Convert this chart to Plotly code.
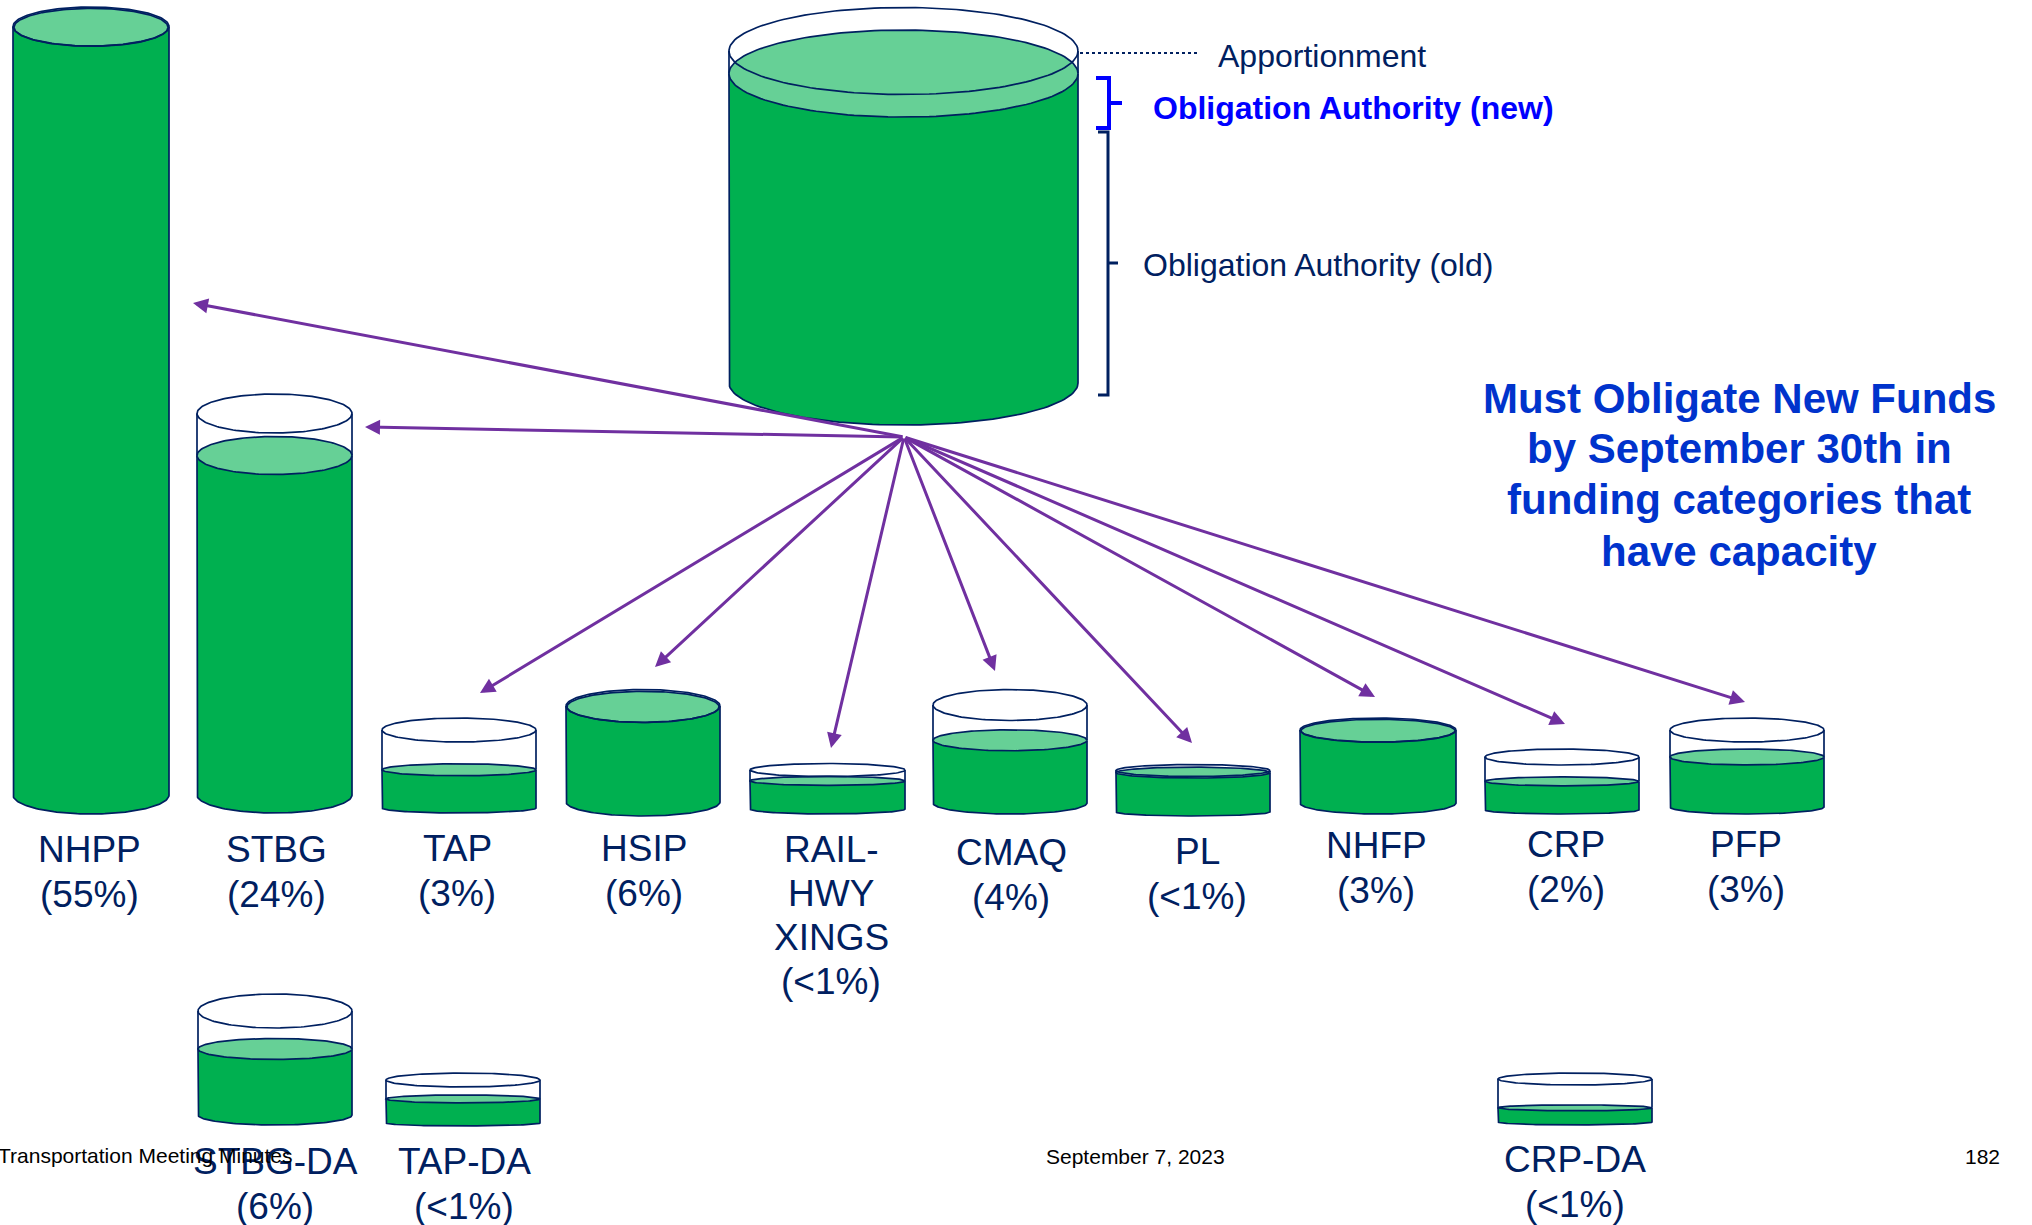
import numpy as np
import plotly.graph_objects as go

W, H = 2032, 1225

# ---------------- data ----------------
label_lines = [["NHPP"], ["STBG"], ["TAP"], ["HSIP"], ["RAIL-", "HWY", "XINGS"], ["CMAQ"],
               ["PL"], ["NHFP"], ["CRP"], ["PFP"], ["STBG-DA"], ["TAP-DA"], ["CRP-DA"]]
shares = ["55%", "24%", "3%", "6%", "<1%", "4%", "<1%", "3%", "2%", "3%", "6%", "<1%", "<1%"]
# share of each container's capacity that is filled (obligation authority)
fill_levels = [1.0, 0.89, 0.49, 1.0, 0.72, 0.64, 0.95, 1.0, 0.54, 0.65, 0.635, 0.56, 0.33]
apportionment_fill = 0.932

annot_apportionment = "Apportionment"
annot_new = "Obligation Authority (new)"
annot_old = "Obligation Authority (old)"
message_lines = ["Must Obligate New Funds", "by September 30th in",
                 "funding categories that", "have capacity"]
footer_left = "Transportation Meeting Minutes"
footer_mid = "September 7, 2023"
footer_right = "182"

# ---------------- layout geometry (pixel space) ----------------
cyl_cx = [91, 274.5, 459, 643, 827.5, 1010, 1193, 1378, 1562, 1747, 275, 463, 1575]
cyl_w = [156, 155, 154, 154, 155, 154, 154, 156, 154, 154, 154, 154, 154]
cyl_top = [26.5, 413.5, 730, 706, 770, 705, 770.5, 730, 757, 730, 1011, 1080, 1079]
cyl_bot = [795, 795, 808, 802, 809, 803, 812, 803, 810, 807, 1115, 1123, 1122]
top_ry = [19.5, 19.5, 12, 16.5, 6.5, 15.5, 6, 12, 8, 12, 17, 7, 6]
fill_ry = [19, 19, 6, 15.5, 4.5, 10.5, 5.5, 11.5, 4.5, 8, 10.5, 4, 3]
bot_ry = [19, 18, 5, 14, 5, 11, 4, 11, 4, 7, 10, 3, 3]

label_x = [89, 276, 457, 644, 831, 1011, 1197, 1376, 1566, 1746, 275, 464, 1575]
label_y0 = [849, 849, 848, 848, 849.5, 852, 851, 845, 844, 844, 1161, 1161, 1159]

main_geom = dict(cx=903.5, w=349, top=51, top_ry=43.5, fill_ry=43.5, bot=383, bot_ry=42)

arrow_origin = (904, 437)
arrow_tips = [(193, 303), (365, 427), (480, 693), (655, 667), (831, 748), (995, 671),
              (1192, 743), (1375, 697), (1565, 724), (1745, 702)]

# ---------------- styles ----------------
GREEN = "#00B050"
LIGHT = "#66D096"
NAVY = "#002060"
PURPLE = "#7030A0"
BLUE = "#0000FF"
MSG_BLUE = "#0033CC"
FONT = "Liberation Sans, Arial, sans-serif"
LW = 1.7

fig = go.Figure()


def add_poly(xs, ys, fill=None, color=NAVY, width=LW, dash=None):
    fig.add_trace(go.Scatter(
        x=xs, y=ys, mode="lines",
        fill="toself" if fill else None,
        fillcolor=fill if fill else None,
        line=dict(color=color, width=width, dash=dash),
        hoverinfo="skip", showlegend=False))


def ellipse(cx, cy, a, b, n=160):
    t = np.linspace(0, 2 * np.pi, n)
    return list(cx + a * np.cos(t)), list(cy + b * np.sin(t))


def cylinder(cx, w, top, tr, frac, fr, bot, br):
    a = w / 2.0
    fill_cy = bot - frac * (bot - top)
    # green body with rounded bottom
    t = np.linspace(np.pi, 0, 80)
    xs = [cx - a, cx - a] + list(cx + a * np.cos(t)) + [cx + a, cx + a]
    ys = [fill_cy, bot] + list(bot + br * np.sin(t)) + [bot, fill_cy]
    add_poly(xs, ys, fill=GREEN)
    # empty walls above the fill level
    if fill_cy - top > 0.5:
        add_poly([cx - a, cx - a, None, cx + a, cx + a],
                 [top, fill_cy, None, top, fill_cy])
    # fill surface
    ex, ey = ellipse(cx, fill_cy + (0.8 if frac >= 0.999 else 0), a - (1.0 if frac >= 0.999 else 0), fr)
    add_poly(ex, ey, fill=LIGHT)
    # container rim
    ex, ey = ellipse(cx, top, a, tr)
    add_poly(ex, ey)


for i in range(len(label_lines)):
    cylinder(cyl_cx[i], cyl_w[i], cyl_top[i], top_ry[i], fill_levels[i],
             fill_ry[i], cyl_bot[i], bot_ry[i])

m = main_geom
cylinder(m["cx"], m["w"], m["top"], m["top_ry"], apportionment_fill, m["fill_ry"],
         m["bot"], m["bot_ry"])

# leader line and braces
add_poly([1080, 1198], [53, 53], color=NAVY, width=2, dash="dot")
add_poly([1096, 1109, 1109, 1122, 1109, 1109, 1096], [78, 78, 103, 103, 103, 128, 128],
         color=BLUE, width=4)
add_poly([1098, 1108, 1108, 1118, 1108, 1108, 1098], [132, 132, 263, 263, 263, 395, 395],
         color=NAVY, width=3)

annotations = []

# arrows
for (tx, ty) in arrow_tips:
    annotations.append(dict(
        x=tx, y=ty, ax=arrow_origin[0], ay=arrow_origin[1], xref="x", yref="y",
        axref="x", ayref="y", text="", showarrow=True, arrowhead=2, arrowsize=1,
        arrowwidth=3, arrowcolor=PURPLE, standoff=0, startstandoff=0))

# category labels
for i, lines in enumerate(label_lines):
    all_lines = lines + ["(" + shares[i] + ")"]
    step = 44 if len(all_lines) > 2 else 45
    for j, ln in enumerate(all_lines):
        annotations.append(dict(
            x=label_x[i], y=label_y0[i] + j * step, xref="x", yref="y",
            text=ln.replace("<", "&lt;"), showarrow=False, xanchor="center", yanchor="middle",
            font=dict(family=FONT, size=37, color=NAVY)))

# callouts
annotations.append(dict(x=1216, y=56, xref="x", yref="y", text=annot_apportionment,
                        showarrow=False, xanchor="left", yanchor="middle",
                        font=dict(family=FONT, size=32, color=NAVY)))
annotations.append(dict(x=1151, y=107.5, xref="x", yref="y", text="<b>" + annot_new + "</b>",
                        showarrow=False, xanchor="left", yanchor="middle",
                        font=dict(family=FONT, size=32, color=BLUE)))
annotations.append(dict(x=1141, y=265, xref="x", yref="y", text=annot_old,
                        showarrow=False, xanchor="left", yanchor="middle",
                        font=dict(family=FONT, size=32, color=NAVY)))

msg_y = [398, 448.5, 499.5, 551]
for ln, yy in zip(message_lines, msg_y):
    annotations.append(dict(x=1739, y=yy, xref="x", yref="y", text="<b>" + ln + "</b>",
                            showarrow=False, xanchor="center", yanchor="middle",
                            font=dict(family=FONT, size=42, color=MSG_BLUE)))

# footer
annotations.append(dict(x=-0.002, y=1155, xref="paper", yref="y", text=footer_left,
                        showarrow=False, xanchor="left", yanchor="middle",
                        font=dict(family=FONT, size=21, color="#000000")))
annotations.append(dict(x=1135, y=1156, xref="x", yref="y", text=footer_mid,
                        showarrow=False, xanchor="center", yanchor="middle",
                        font=dict(family=FONT, size=21, color="#000000")))
annotations.append(dict(x=2002, y=1156, xref="x", yref="y", text=footer_right,
                        showarrow=False, xanchor="right", yanchor="middle",
                        font=dict(family=FONT, size=21, color="#000000")))

fig.update_layout(
    width=W, height=H,
    margin=dict(l=0, r=0, t=0, b=0, pad=0),
    paper_bgcolor="white", plot_bgcolor="white",
    showlegend=False,
    xaxis=dict(range=[0, W], visible=False, fixedrange=True),
    yaxis=dict(range=[H, 0], visible=False, fixedrange=True),
    annotations=annotations,
)

fig.write_html("out.html", config={"displayModeBar": False},
               post_script="document.body.style.margin='0';document.body.style.overflow='hidden';")
